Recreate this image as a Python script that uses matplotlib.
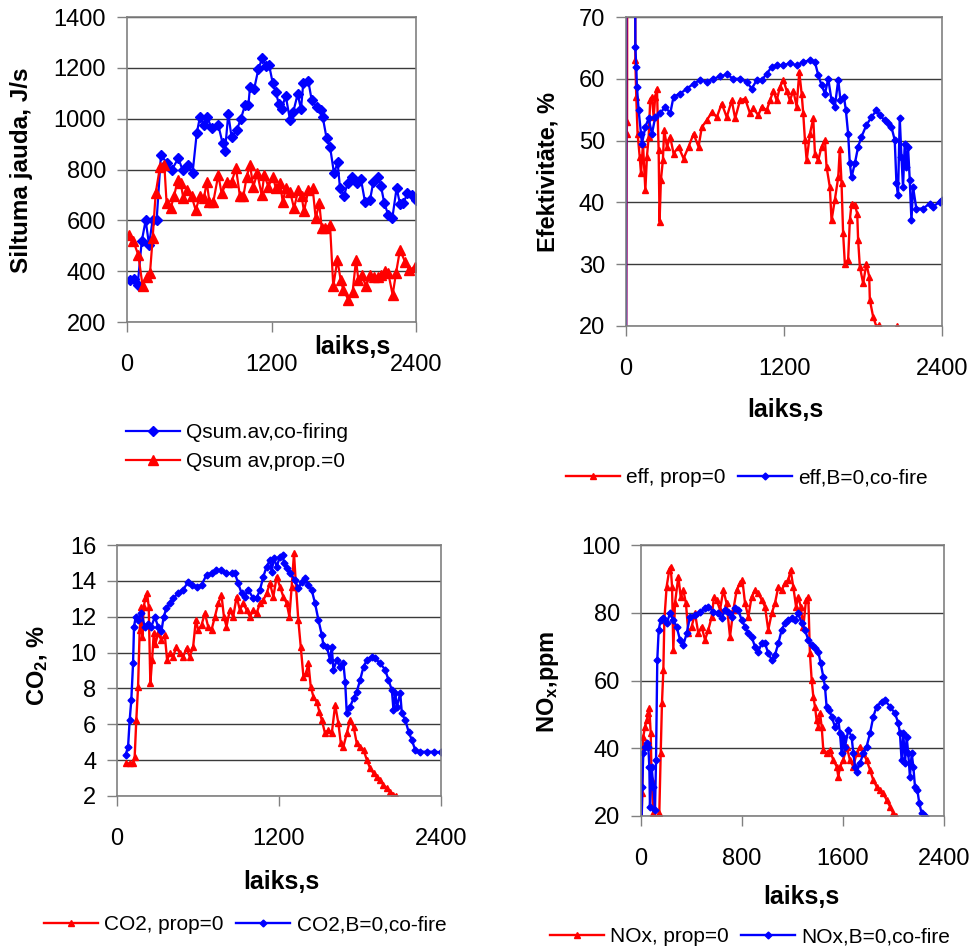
import matplotlib
matplotlib.use("Agg")
import matplotlib.pyplot as plt

plt.rcParams['font.family'] = ['Liberation Sans', 'DejaVu Sans']
plt.rcParams['mathtext.default'] = 'regular'

# ---------------- Panel 1: heat output ----------------
q_cofire_t = [25, 61, 89, 122, 155, 183, 213, 246, 282, 329, 371, 426, 462, 509, 545, 579, 606, 639,
              667, 703, 758, 794, 814, 841, 869, 911, 944, 980, 1008, 1021, 1055, 1091, 1124, 1151,
              1179, 1210, 1235, 1262, 1284, 1318, 1354, 1381, 1417, 1445, 1464, 1506, 1533, 1575,
              1608, 1625, 1658, 1686, 1719, 1749, 1769, 1802, 1832, 1866, 1907, 1943, 1976, 2018,
              2046, 2082, 2109, 2137, 2170, 2203, 2239, 2267, 2295, 2328, 2369, 2400]
q_cofire_v = [366, 369, 347, 517, 600, 504, 602, 600, 857, 827, 798, 844, 798, 818, 788, 942, 1007, 975,
              1005, 962, 975, 903, 874, 1018, 926, 955, 997, 1053, 1052, 1123, 1115, 1195, 1240, 1208,
              1213, 1141, 1106, 1056, 1040, 1090, 994, 1027, 1096, 1038, 1141, 1147, 1075, 1044,
              1034, 1007, 922, 890, 785, 828, 726, 696, 746, 772, 746, 761, 674, 680,
              752, 772, 735, 667, 621, 608, 727, 665, 667, 706, 700, 680]

q_prop0_t = [19, 53, 94, 130, 163, 191, 213, 238, 274, 310, 329, 363, 390, 421, 446, 468, 501, 537,
             570, 606, 639, 662, 684, 717, 758, 786, 828, 869, 905, 938, 966, 994, 1021, 1049, 1082,
             1118, 1140, 1174, 1210, 1237, 1271, 1293, 1320, 1354, 1387, 1423, 1450, 1470, 1506,
             1542, 1567, 1597, 1617, 1644, 1686, 1713, 1747, 1774, 1796, 1838, 1874, 1902, 1921,
             1949, 1985, 2018, 2051, 2082, 2109, 2142, 2170, 2206, 2234, 2267, 2308, 2344, 2392]
q_prop0_v = [543, 517, 464, 340, 379, 392, 530, 706, 811, 818, 667, 648, 694, 759, 746, 687, 720, 694,
             641, 694, 687, 752, 674, 674, 778, 706, 752, 752, 805, 694, 694, 772, 818, 733, 785,
             700, 778, 733, 772, 726, 746, 674, 726, 713, 648, 720, 694, 635, 720,
             726, 608, 667, 569, 569, 582, 340, 445, 366, 327, 288, 320, 445, 366,
             386, 340, 386, 379, 379, 386, 399, 392, 307, 392, 484, 438, 405, 418]

# ---------------- Panel 2: efficiency ----------------
eff_prop0_t = [0, 5, 8, 10, 68, 71, 78, 88, 104, 114, 129, 147, 159, 172, 184, 197, 210, 222, 235, 248,
               255, 265, 280, 290, 311, 336, 361, 399, 437, 475, 513, 551, 576, 614, 652, 690, 727,
               765, 803, 829, 866, 904, 942, 967, 1005, 1031, 1068, 1094, 1119, 1144, 1170, 1195,
               1220, 1245, 1271, 1296, 1316, 1334, 1346, 1359, 1372, 1397, 1422, 1435, 1460, 1485,
               1511, 1523, 1548, 1561, 1586, 1612, 1624, 1637, 1649, 1662, 1687, 1700, 1713, 1738,
               1756, 1763, 1776, 1801, 1826, 1847, 1852, 1877, 1902, 1922, 1935, 2000, 2055, 2061,
               2068, 2100]
eff_prop0_v = [5, 51, 53, 95, 90, 63.0, 57.1, 51.1, 47.4, 44.7, 49.5, 42.0, 47.4, 50.6, 56.5, 57.1, 53.8,
               57.1, 58.4, 48.4, 36.9, 43.6, 46.8, 51.7, 49.0, 50.6, 47.9, 49.0, 47.1, 49.0, 51.1,
               49.0, 52.2, 53.3, 54.6, 53.8, 56.0, 53.8, 56.5, 53.6, 56.5, 56.8, 54.4, 55.2, 54.1,
               55.5, 54.9, 56.5, 58.1, 56.5, 58.7, 59.8, 58.1, 56.5, 58.1, 55.5, 61.1, 57.6, 54.4,
               50.1, 46.8, 51.1, 53.6, 47.9, 46.8, 49.0, 50.1, 45.8, 42.5, 37.1, 40.4, 44.1, 48.7,
               43.1, 35.0, 30.1, 30.7, 37.1, 39.8, 39.6, 38.2, 33.9, 29.6, 26.9, 30.1, 28.0, 24.2,
               21.5, 19.9, 20.2, 15, 12, 16, 20.0, 15, 10]

eff_cofire_t = [0, 3, 68, 71, 78, 83, 96, 114, 121, 147, 172, 197, 222, 260, 298, 336, 361, 412, 462,
                513, 563, 614, 664, 715, 765, 816, 866, 917, 955, 993, 1031, 1068, 1106, 1144, 1195,
                1245, 1296, 1346, 1397, 1435, 1460, 1485, 1511, 1536, 1561, 1586, 1612, 1629, 1655,
                1670, 1687, 1700, 1713, 1738, 1763, 1788, 1826, 1864, 1902, 1927, 1965, 1990, 2016,
                2041, 2054, 2066, 2079, 2092, 2104, 2117, 2130, 2142, 2155, 2168, 2180, 2205, 2256,
                2306, 2332, 2382, 2400]
eff_cofire_v = [5, 95, 95, 65.2, 61.9, 58.7, 54.9, 51.1, 49.5, 52.2, 53.6, 51.1, 53.8, 54.4, 55.5, 54.4,
                57.1, 57.6, 58.4, 59.2, 59.8, 59.5, 60.0, 60.4, 60.7, 60.0, 60.0, 59.5, 58.4, 59.8,
                59.8, 60.8, 61.9, 62.2, 62.2, 62.5, 62.2, 62.7, 63.0, 62.7, 60.6, 59.0, 57.6, 60.0,
                56.5, 55.5, 59.8, 56.5, 57.1, 54.9, 51.1, 46.3, 44.1, 46.3, 49.0, 50.6, 52.5, 53.8,
                54.9, 54.1, 53.3, 52.8, 52.2, 50.1, 43.1, 41.2, 53.6, 47.4, 42.5, 49.5, 45.8, 49.0,
                43.6, 37.1, 42.5, 39.0, 39.0, 39.8, 39.3, 40.1, 40.4]

# ---------------- Panel 3: CO2 ----------------
co2_prop0_t = [69, 94, 119, 131, 143, 156, 168, 181, 188, 198, 210, 223, 235, 247, 260, 272, 285, 304,
               329, 354, 371, 391, 416, 440, 465, 490, 515, 539, 564, 584, 601, 626, 651, 675, 700,
               725, 750, 774, 792, 811, 836, 861, 886, 910, 935, 960, 985, 1009, 1034, 1059, 1084,
               1108, 1133, 1158, 1183, 1207, 1232, 1257, 1277, 1294, 1311, 1326, 1343, 1361, 1381,
               1400, 1418, 1435, 1455, 1479, 1499, 1517, 1541, 1566, 1591, 1616, 1640, 1658, 1677,
               1702, 1727, 1752, 1776, 1801, 1826, 1851, 1875, 1900, 1925, 1950, 1974, 1999, 2024,
               2048, 2068]
co2_prop0_v = [3.82, 3.82, 3.82, 4.2, 6.24, 8.1, 11.26, 12.56, 10.89, 12.56, 13.03, 13.3, 12.56, 8.29,
               9.59, 11.07, 10.5, 11.07, 10.7, 10.98, 9.59, 9.96, 9.77, 10.33, 9.96, 9.77, 10.24,
               9.77, 10.33, 11.82, 11.26, 11.54, 12.19, 11.45, 11.26, 12.0, 12.75, 13.21, 12.0,
               11.45, 12.38, 12.0, 13.12, 12.38, 12.75, 12.38, 12.0, 12.38, 12.19, 12.75, 12.93,
               13.3, 13.86, 13.12, 14.23, 13.68, 13.12, 12.75, 12.0, 13.68, 15.54, 13.68, 11.82,
               10.33, 8.66, 8.84, 9.4, 8.1, 7.54, 7.26, 6.71, 6.24, 5.5, 5.68, 5.5, 7.08, 6.05,
               4.94, 4.75, 5.5, 6.24, 5.87, 4.94, 4.75, 4.57, 4.01, 3.54, 3.27, 3.08, 2.89, 2.61,
               2.42, 2.24, 2.06, 2.0]

co2_cofire_t = [64, 82, 94, 106, 119, 126, 139, 156, 181, 205, 230, 255, 280, 304, 329, 346, 366, 391,
                416, 453, 490, 527, 552, 589, 626, 663, 700, 737, 774, 811, 849, 873, 898, 923, 947,
                972, 1009, 1034, 1059, 1084, 1108, 1133, 1145, 1163, 1183, 1207, 1227, 1237, 1257,
                1282, 1319, 1343, 1368, 1393, 1418, 1442, 1467, 1492, 1517, 1529, 1554, 1578, 1591,
                1603, 1628, 1653, 1677, 1690, 1702, 1727, 1752, 1776, 1801, 1826, 1851, 1888, 1912,
                1950, 1987, 2011, 2036, 2048, 2061, 2073, 2098, 2110, 2135, 2160, 2184, 2209, 2246,
                2296, 2345, 2400]
co2_cofire_v = [4.29, 4.75, 6.24, 7.36, 9.4, 11.45, 12.0, 11.8, 12.2, 11.45, 11.6, 11.45, 12.0, 11.45,
                11.2, 12.0, 12.47, 12.75, 13.03, 13.3, 13.5, 13.95, 13.77, 13.68, 13.77, 14.33,
                14.42, 14.6, 14.6, 14.42, 14.42, 14.42, 13.86, 13.3, 13.12, 13.5, 13.03, 13.03,
                13.5, 14.23, 14.8, 15.16, 14.5, 15.26, 14.8, 15.35, 15.44, 14.98, 14.7, 14.42,
                14.05, 13.58, 13.95, 14.14, 13.77, 13.5, 12.75, 11.82, 10.98, 10.42, 10.33, 9.59,
                10.33, 9.03, 9.59, 9.21, 9.4, 8.38, 6.61, 6.98, 7.45, 7.82, 8.47, 9.21, 9.59, 9.77,
                9.68, 9.4, 9.03, 8.47, 7.91, 6.8, 7.73, 6.98, 7.73, 6.61, 6.24, 5.59, 5.12, 4.57,
                4.47, 4.47, 4.47, 4.44]

# ---------------- Panel 4: NOx ----------------
nox_prop0_t = [3, 10, 18, 32, 45, 58, 66, 77, 84, 98, 124, 145, 156, 166, 177, 185, 203, 224, 235, 246,
               256, 269, 296, 314, 335, 356, 375, 401, 428, 454, 480, 507, 533, 560, 578, 599, 626,
               652, 678, 705, 731, 758, 784, 803, 824, 850, 876, 903, 929, 956, 982, 1008, 1035,
               1061, 1088, 1114, 1140, 1167, 1185, 1206, 1228, 1246, 1265, 1286, 1307, 1325, 1338,
               1352, 1365, 1378, 1391, 1404, 1418, 1431, 1444, 1470, 1497, 1523, 1550, 1563, 1576,
               1602, 1629, 1655, 1682, 1708, 1734, 1761, 1787, 1814, 1840, 1866, 1893, 1919, 1946,
               1972, 1998, 2020]
nox_prop0_v = [15, 26.7, 43.4, 46.4, 48.3, 50.3, 51.8, 44.4, 30.6, 20.8, 18.8, 20.8, 38.5, 53.3, 63.1,
               77.9, 87.7, 92.6, 93.6, 87.7, 69.0, 82.8, 90.7, 84.7, 86.7, 82.8, 73.9, 75.9, 79.8,
               73.9, 75.9, 72.0, 74.9, 78.8, 84.7, 83.8, 80.8, 86.7, 82.8, 72.9, 80.8, 86.7, 88.7,
               89.7, 82.8, 78.8, 84.7, 86.7, 85.7, 83.8, 81.8, 74.9, 79.8, 82.8, 87.7, 86.7, 88.7,
               89.7, 92.6, 87.7, 81.8, 84.7, 81.8, 75.9, 83.8, 84.7, 68.0, 60.1, 55.2, 52.3, 48.3,
               46.4, 50.3, 46.4, 39.5, 38.5, 39.5, 36.5, 34.6, 31.6, 34.6, 36.5, 40.5, 36.5, 34.6,
               38.5, 40.5, 38.5, 36.5, 33.6, 30.6, 28.7, 27.7, 26.7, 24.7, 22.8, 20.8, 20.0]

nox_cofire_t = [3, 10, 18, 32, 45, 58, 66, 71, 84, 98, 111, 119, 129, 140, 156, 177, 203, 230, 256, 282,
                309, 335, 362, 388, 428, 467, 507, 533, 573, 612, 639, 665, 692, 718, 744, 771, 797,
                824, 850, 876, 903, 929, 956, 982, 1008, 1035, 1061, 1088, 1114, 1140, 1167, 1193,
                1220, 1246, 1272, 1299, 1325, 1352, 1378, 1404, 1423, 1444, 1457, 1470, 1492, 1510,
                1536, 1563, 1576, 1589, 1602, 1616, 1642, 1668, 1682, 1695, 1708, 1734, 1761, 1787,
                1814, 1840, 1866, 1906, 1932, 1972, 2012, 2038, 2051, 2064, 2078, 2091, 2104, 2117,
                2130, 2144, 2157, 2170, 2189, 2204, 2223, 2249]
nox_cofire_v = [15, 28.7, 38.5, 40.5, 41.5, 40.5, 34.6, 22.8, 34.6, 28.7, 21.8, 36.5, 66.1, 74.9, 77.9,
                78.4, 76.9, 79.8, 77.9, 75.9, 72.0, 70.5, 73.9, 78.8, 79.3, 80.3, 81.3, 81.8, 80.3,
                79.8, 78.4, 80.8, 80.3, 78.8, 81.3, 80.8, 77.9, 75.9, 73.9, 72.9, 70.0, 68.5, 71.0,
                71.0, 68.0, 66.1, 67.5, 71.0, 74.9, 76.9, 77.9, 78.4, 77.9, 79.8, 76.9, 74.9, 72.0,
                70.5, 69.5, 68.5, 65.1, 61.1, 58.2, 52.3, 51.3, 49.3, 46.4, 48.3, 44.4, 38.5, 43.4,
                40.5, 45.4, 43.4, 38.5, 34.6, 33.1, 35.5, 38.5, 40.5, 44.4, 49.3, 52.3, 53.8, 54.2,
                52.3, 50.3, 47.4, 44.4, 36.5, 44.4, 35.5, 43.4, 38.5, 31.6, 38.5, 34.6, 28.7, 27.7,
                23.8, 20.8, 20.0]

BLUE = '#0000FF'
RED = '#FF0000'
W, H = 973, 949

fig = plt.figure(figsize=(W / 100, H / 100), dpi=100)


def axes_px(left, top, right, bottom):
    return fig.add_axes([left / W, 1 - bottom / H, (right - left) / W, (bottom - top) / H])


def style(ax, xticks, yticks, ylim):
    ax.set_xlim(0, 2400)
    ax.set_ylim(*ylim)
    ax.set_xticks(xticks)
    ax.set_yticks(yticks)
    ax.set_xticklabels([str(v) for v in xticks])
    ax.set_yticklabels([str(v) for v in yticks])
    for s in ax.spines.values():
        s.set_color('#808080')
        s.set_linewidth(1.2)
    ax.yaxis.grid(True, color='#3a3a3a', linewidth=1.0)
    ax.set_axisbelow(True)
    ax.tick_params(axis='both', direction='out', length=7, width=1, color='#808080',
                   labelsize=17)
    ax.tick_params(axis='x', pad=16)
    ax.tick_params(axis='y', pad=8)


def ftext(x, y, s, size, rot=0, weight='bold'):
    fig.text(x / W, 1 - y / H, s, ha='center', va='center', rotation=rot,
             fontsize=size, fontweight=weight)


# Panel 1
ax1 = axes_px(127, 17, 416, 322)
style(ax1, [0, 1200, 2400], [200, 400, 600, 800, 1000, 1200, 1400], (200, 1400))
l1b, = ax1.plot(q_cofire_t, q_cofire_v, color=BLUE, lw=1.6, marker='D', ms=5.5,
                label='Qsum.av,co-firing')
l1r, = ax1.plot(q_prop0_t, q_prop0_v, color=RED, lw=1.6, marker='^', ms=7.5,
                label='Qsum av,prop.=0')
ftext(22, 170, 'Siltuma jauda, J/s', 17.5, rot=90)
ftext(352, 347, 'laiks,s', 18)
fig.legend(handles=[l1b, l1r], loc='center', bbox_to_anchor=(237 / W, 1 - 447 / H),
           frameon=False, fontsize=15, handlelength=2.6, handletextpad=0.3,
           labelspacing=0.5)

# Panel 2
ax2 = axes_px(626, 17, 942, 326)
style(ax2, [0, 1200, 2400], [20, 30, 40, 50, 60, 70], (20, 70))
l2r, = ax2.plot(eff_prop0_t, eff_prop0_v, color=RED, lw=1.7, marker='^', ms=4.5,
                label='eff, prop=0')
l2b, = ax2.plot(eff_cofire_t, eff_cofire_v, color=BLUE, lw=1.7, marker='D', ms=3.5,
                label='eff,B=0,co-fire')
ftext(548, 172, 'Efektivitāte, %', 17, rot=90)
ftext(785, 410, 'laiks,s', 18)
fig.legend(handles=[l2r, l2b], loc='center', bbox_to_anchor=(747 / W, 1 - 478 / H),
           frameon=False, fontsize=15, ncol=2, handlelength=2.6, handletextpad=0.3,
           columnspacing=0.6)

# Panel 3
ax3 = axes_px(117, 545, 441, 796)
style(ax3, [0, 1200, 2400], [2, 4, 6, 8, 10, 12, 14, 16], (2, 16))
l3r, = ax3.plot(co2_prop0_t, co2_prop0_v, color=RED, lw=1.7, marker='^', ms=4.5,
                label='CO2, prop=0')
l3b, = ax3.plot(co2_cofire_t, co2_cofire_v, color=BLUE, lw=1.7, marker='D', ms=3.5,
                label='CO2,B=0,co-fire')
ftext(38, 665, 'CO$_2$, %', 17, rot=90)
ftext(281, 882, 'laiks,s', 18)
fig.legend(handles=[l3r, l3b], loc='center', bbox_to_anchor=(245 / W, 1 - 925 / H),
           frameon=False, fontsize=15, ncol=2, handlelength=2.6, handletextpad=0.3,
           columnspacing=0.6)

# Panel 4
ax4 = axes_px(641, 545, 944, 816)
style(ax4, [0, 800, 1600, 2400], [20, 40, 60, 80, 100], (20, 100))
l4r, = ax4.plot(nox_prop0_t, nox_prop0_v, color=RED, lw=1.7, marker='^', ms=4.5,
                label='NOx, prop=0')
l4b, = ax4.plot(nox_cofire_t, nox_cofire_v, color=BLUE, lw=1.7, marker='D', ms=3.5,
                label='NOx,B=0,co-fire')
ftext(548, 682, 'NO$_x$,ppm', 17, rot=90)
ftext(801, 897, 'laiks,s', 18)
fig.legend(handles=[l4r, l4b], loc='center', bbox_to_anchor=(750 / W, 1 - 937 / H),
           frameon=False, fontsize=15, ncol=2, handlelength=2.6, handletextpad=0.3,
           columnspacing=0.6)

fig.savefig('out.png', dpi=100)
